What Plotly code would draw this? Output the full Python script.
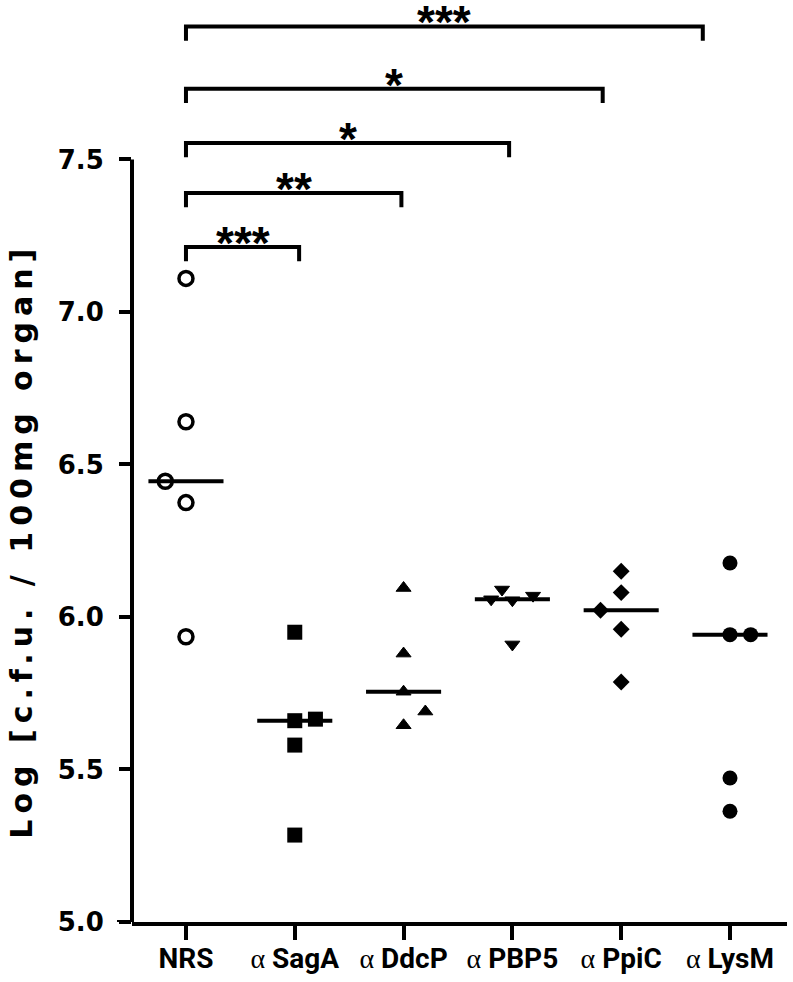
import numpy as np
import plotly.graph_objects as go

# ---------------- data ----------------
categories = ["NRS", "α SagA", "α DdcP", "α PBP5", "α PpiC", "α LysM"]
nrs_vals  = [7.11, 6.64, 6.445, 6.375, 5.935]
saga_vals = [5.95, 5.665, 5.66, 5.58, 5.285]
ddcp_vals = [6.095, 5.88, 5.755, 5.69, 5.645]
pbp5_vals = [6.09, 6.07, 6.058, 6.055, 5.91]
ppic_vals = [6.15, 6.08, 6.022, 5.96, 5.787]
lysm_vals = [6.177, 5.942, 5.942, 5.472, 5.363]

y_ticks = [5.0, 5.5, 6.0, 6.5, 7.0, 7.5]
y_title = "Log [c.f.u. / 100mg organ]"

# significance comparisons (vs NRS)
sig_labels = ["***", "**", "*", "*", "***"]

# ---------------- layout helpers (positions / styles) ----------------
groups = [nrs_vals, saga_vals, ddcp_vals, pbp5_vals, ppic_vals, lysm_vals]
jitter = [
    [0, 0, -0.19, 0, 0],
    [0, 0.19, 0, 0, 0],
    [0, 0, 0, 0.2, 0],
    [-0.095, 0.19, -0.195, 0, 0],
    [0, 0, -0.19, 0, 0],
    [0, 0, 0.19, 0, 0],
]
symbols = ["circle-open", "square", "triangle-up", "triangle-down", "diamond", "circle"]
sizes = [14, 15, 13, 13, 13, 15]
line_w = [3.5, 0, 1, 1, 0, 0]
half_med = 0.345

bracket_end = [1.04, 1.98, 2.97, 3.83, 4.75]
bracket_top = [7.213, 7.390, 7.554, 7.732, 7.936]
bracket_drop = 0.047

fig = go.Figure()

for i, (vals, off) in enumerate(zip(groups, jitter)):
    fig.add_trace(go.Scatter(
        x=[i + o for o in off], y=vals, mode="markers",
        marker=dict(symbol=symbols[i], size=sizes[i], color="black",
                    line=dict(width=line_w[i], color="black")),
        showlegend=False, hoverinfo="y"))

# median lines
mx, my = [], []
for i, vals in enumerate(groups):
    m = float(np.median(vals))
    mx += [i - half_med, i + half_med, None]
    my += [m, m, None]
fig.add_trace(go.Scatter(x=mx, y=my, mode="lines",
                         line=dict(color="black", width=4),
                         showlegend=False, hoverinfo="skip"))

# brackets
bx, by = [], []
for xe, yt in zip(bracket_end, bracket_top):
    bx += [0, 0, xe, xe, None]
    by += [yt - bracket_drop, yt, yt, yt - bracket_drop, None]
fig.add_trace(go.Scatter(x=bx, y=by, mode="lines",
                         line=dict(color="black", width=4),
                         showlegend=False, hoverinfo="skip"))

annotations = []
for xe, yt, lab in zip(bracket_end, bracket_top, sig_labels):
    annotations.append(dict(
        x=xe / 2, y=yt, xref="x", yref="y", text=lab, showarrow=False,
        yanchor="bottom", xanchor="center", yshift=-24,
        font=dict(family="Liberation Sans", size=46, color="black", weight="bold")))

annotations.append(dict(
    x=-0.168, y=6.25, xref="paper", yref="y",
    text='<span style="letter-spacing:6px">' + y_title + '</span>',
    showarrow=False, textangle=-90, xanchor="center", yanchor="middle",
    font=dict(family="DejaVu Sans", size=30, color="black", weight="bold")))

ticktext = []
for c in categories:
    if c.startswith("α "):
        ticktext.append('<span style="font-family:Liberation Serif;font-weight:normal">α</span> ' + c[2:])
    else:
        ticktext.append(c)

fig.update_layout(
    width=793, height=982,
    margin=dict(l=132, r=6, t=10, b=60, autoexpand=False),
    plot_bgcolor="white", paper_bgcolor="white",
    annotations=annotations,
    shapes=[
        dict(type="line", xref="paper", yref="y", x0=0, x1=0, y0=5.0, y1=7.5,
             line=dict(color="black", width=4)),
        dict(type="line", xref="paper", yref="y", x0=-0.0229, x1=0.003, y0=5.0, y1=5.0,
             line=dict(color="black", width=4)),
    ],
)
fig.update_xaxes(
    range=[-0.496, 5.524], showgrid=False, zeroline=False, automargin=False,
    showline=True, linecolor="black", linewidth=4,
    tickmode="array", tickvals=list(range(len(categories))), ticktext=ticktext,
    ticks="outside", ticklen=14, tickwidth=4, tickcolor="black",
    ticklabelstandoff=-6,
    tickfont=dict(family="Roboto", size=28, color="black", weight="bold"))
fig.update_yaxes(
    range=[5.0, 7.99], showgrid=False, zeroline=False, showline=False, automargin=False,
    tickmode="array", tickvals=y_ticks, ticktext=[f"{v:.1f}" for v in y_ticks],
    ticks="outside", ticklen=12, tickwidth=4, tickcolor="black",
    ticklabelstandoff=10,
    tickfont=dict(family="DejaVu Sans", size=26, color="black", weight="bold"))

fig.write_html("out.html", config={"displayModeBar": False},
               post_script="document.body.style.margin='0';document.body.style.overflow='hidden';")
